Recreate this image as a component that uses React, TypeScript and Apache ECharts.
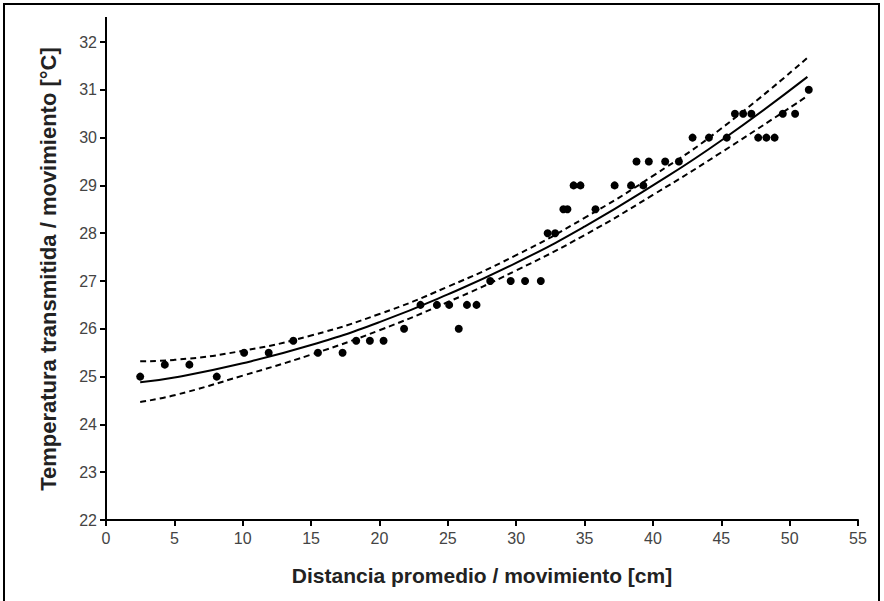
import React, { useEffect, useRef } from "react";
import * as echarts from "echarts";

// Observed points
const pointX = [2.5, 4.3, 6.1, 8.1, 10.1, 11.9, 13.7, 15.5, 17.3, 18.3, 19.3, 20.3, 21.8, 23.0, 24.2, 25.1, 25.8, 26.4, 27.1, 28.1, 29.6, 30.65, 31.8, 32.3, 32.85, 33.45, 33.75, 34.2, 34.7, 35.8, 37.2, 38.4, 38.8, 39.3, 39.7, 40.9, 41.9, 42.9, 44.1, 45.4, 46.0, 46.6, 47.2, 47.7, 48.3, 48.9, 49.5, 50.4, 51.4];
const pointY = [25, 25.25, 25.25, 25, 25.5, 25.5, 25.75, 25.5, 25.5, 25.75, 25.75, 25.75, 26, 26.5, 26.5, 26.5, 26, 26.5, 26.5, 27, 27, 27, 27, 28, 28, 28.5, 28.5, 29, 29, 28.5, 29, 29, 29.5, 29, 29.5, 29.5, 29.5, 30, 30, 30, 30.5, 30.5, 30.5, 30, 30, 30, 30.5, 30.5, 31];

// Fitted curve and confidence band
const curveX = [2.5, 5, 10, 15, 20, 25, 30, 35, 40, 45, 51.3];
const fitY = [24.88, 24.98, 25.28, 25.66, 26.14, 26.72, 27.38, 28.14, 29.0, 29.94, 31.27];
const upperY = [25.32, 25.35, 25.54, 25.86, 26.31, 26.88, 27.54, 28.32, 29.2, 30.19, 31.67];
const lowerY = [24.47, 24.61, 25.02, 25.46, 25.97, 26.56, 27.22, 27.96, 28.8, 29.69, 30.87];

const xName = "Distancia promedio / movimiento [cm]";
const yName = "Temperatura transmitida / movimiento [°C]";

export default function App() {
  const ref = useRef<HTMLDivElement>(null);
  useEffect(() => {
    if (!ref.current) return;
    const chart = echarts.init(ref.current, null, { renderer: "svg" });
    const zip = (xs: number[], ys: number[]) => xs.map((x, i) => [x, ys[i]]);
    const font = "'Liberation Sans', Arial, sans-serif";
    chart.setOption({
      animation: false,
      backgroundColor: "#fff",
      grid: { left: 106, right: 26, top: 42, bottom: 81 },
      xAxis: {
        type: "value",
        min: 0,
        max: 55,
        interval: 5,
        name: xName,
        nameLocation: "middle",
        nameGap: 45,
        nameTextStyle: { fontFamily: font, fontSize: 21, fontWeight: "bold", color: "#222" },
        splitLine: { show: false },
        axisLine: { show: true, lineStyle: { color: "#000", width: 2 } },
        axisTick: { show: true, length: 6, lineStyle: { color: "#000", width: 2 } },
        axisLabel: { fontFamily: font, fontSize: 16, color: "#444", margin: 10 },
      },
      yAxis: {
        type: "value",
        position: "left",
        min: 22,
        max: 32,
        interval: 1,
        name: yName,
        nameLocation: "middle",
        nameGap: 47,
        nameTextStyle: {
          fontFamily: font,
          fontSize: 22,
          fontWeight: "bold",
          color: "#222",
          padding: [0, 0, 0, 24],
        },
        splitLine: { show: false },
        axisLine: { show: true, lineStyle: { color: "#000", width: 2 } },
        axisTick: { show: true, inside: false, length: 6, lineStyle: { color: "#000", width: 2 } },
        axisLabel: { fontFamily: font, fontSize: 16, color: "#444", margin: 9 },
      },
      graphic: [
        {
          type: "rect",
          shape: { x: 4, y: 4, width: 875, height: 620 },
          style: { fill: "none", stroke: "#000", lineWidth: 2 },
          silent: true,
        },
        {
          type: "line",
          shape: { x1: 106, y1: 17, x2: 106, y2: 43 },
          style: { stroke: "#000", lineWidth: 2 },
          silent: true,
        },
      ],
      series: [
        {
          type: "line",
          data: zip(curveX, fitY),
          showSymbol: false,
          smooth: true,
          lineStyle: { color: "#000", width: 2 },
          z: 3,
        },
        {
          type: "line",
          data: zip(curveX, upperY),
          showSymbol: false,
          smooth: true,
          lineStyle: { color: "#000", width: 2, type: [6, 4] },
          z: 3,
        },
        {
          type: "line",
          data: zip(curveX, lowerY),
          showSymbol: false,
          smooth: true,
          lineStyle: { color: "#000", width: 2, type: [6, 4] },
          z: 3,
        },
        {
          type: "scatter",
          data: zip(pointX, pointY),
          symbol: "circle",
          symbolSize: 8,
          itemStyle: { color: "#000", opacity: 1 },
          z: 4,
        },
      ],
    });
    return () => chart.dispose();
  }, []);
  return (
    <div
      ref={ref}
      style={{ position: "fixed", left: 0, top: 0, width: 884, height: 601 }}
    />
  );
}
